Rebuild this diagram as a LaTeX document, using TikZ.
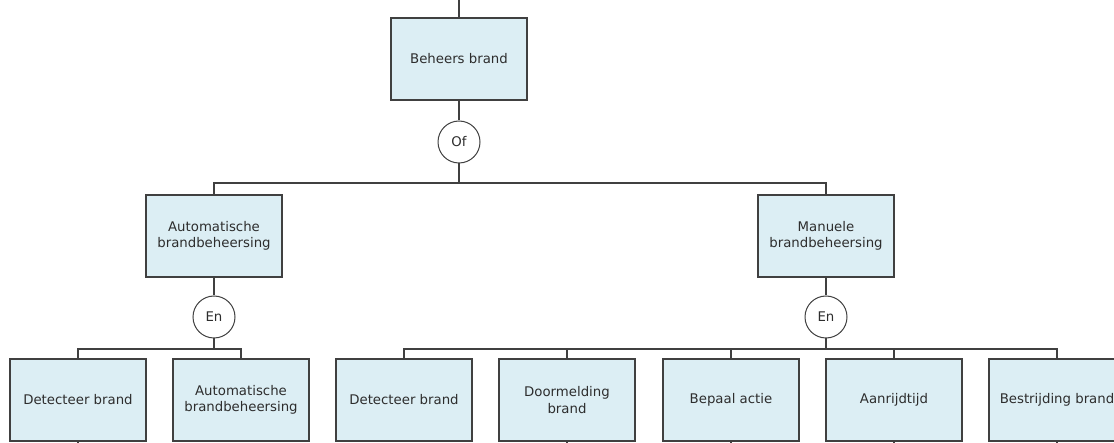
\documentclass[tikz,border=0pt]{standalone}
\usepackage{fontspec}
\setmainfont{DejaVu Sans}
\usepackage{xcolor}
\definecolor{boxfill}{RGB}{220,238,244}
\definecolor{boxline}{RGB}{64,64,64}
\definecolor{txt}{RGB}{45,45,45}

\tikzset{
  goal/.style={draw=boxline, fill=boxfill, line width=1.1pt, minimum width=136pt,
    minimum height=82pt, align=center, inner sep=0pt,
    font=\fontsize{13.3}{16.5}\selectfont, text=txt},
  gate/.style={draw=boxline, fill=white, circle, line width=1pt, minimum size=42pt,
    inner sep=0pt, font=\fontsize{13.3}{16.5}\selectfont, text=txt},
  wire/.style={draw=boxline, line width=1.1pt}
}

\begin{document}
\begin{tikzpicture}[x=1pt,y=-1pt]
          \useasboundingbox (0,0) rectangle (1114,443);

          % top goal
          \coordinate (up) at (459,0);
          \node[goal] (top) at (459,59) {Beheers brand};
          \node[gate] (of) at (459,142) {Of};
          \coordinate (bar1) at (459,183);
          \draw[wire] (up) -- (top.north);
          \draw[wire] (top.south) -- (of.north);
          \draw[wire] (of.south) -- (bar1);

          % second level
          \node[goal] (auto) at (214,236) {Automatische\\brandbeheersing};
          \node[goal] (manu) at (826,236) {Manuele\\brandbeheersing};
          \draw[wire] (auto.north) |- (bar1) -| (manu.north);

          % gates
          \node[gate] (en1) at (214,317) {En};
          \node[gate] (en2) at (826,317) {En};
          \coordinate (bar2) at (214,349);
          \coordinate (bar3) at (826,349);
          \draw[wire] (auto.south) -- (en1.north);
          \draw[wire] (manu.south) -- (en2.north);
          \draw[wire] (en1.south) -- (bar2);
          \draw[wire] (en2.south) -- (bar3);

          % bottom level
          \node[goal] (det1) at (78,400) {Detecteer brand};
          \node[goal] (aut2) at (241,400) {Automatische\\brandbeheersing};
          \node[goal] (det2) at (404,400) {Detecteer brand};
          \node[goal] (door) at (567,400) {Doormelding\\brand};
          \node[goal] (actie) at (731,400) {Bepaal actie};
          \node[goal] (rijd) at (894,400) {Aanrijdtijd};
          \node[goal] (bestr) at (1057,400) {Bestrijding brand};

          \draw[wire] (det1.north) |- (bar2) -| (aut2.north);
          \draw[wire] (det2.north) |- (bar3) -| (bestr.north);
          \foreach \n in {door,actie,rijd}
            \draw[wire] (\n.north) -- (\n.north |- bar3);

          % lines going down
          \foreach \n in {det1,door,actie,rijd,bestr}
            \draw[wire] (\n.south) -- ++(0,10);
\end{tikzpicture}
\end{document}
